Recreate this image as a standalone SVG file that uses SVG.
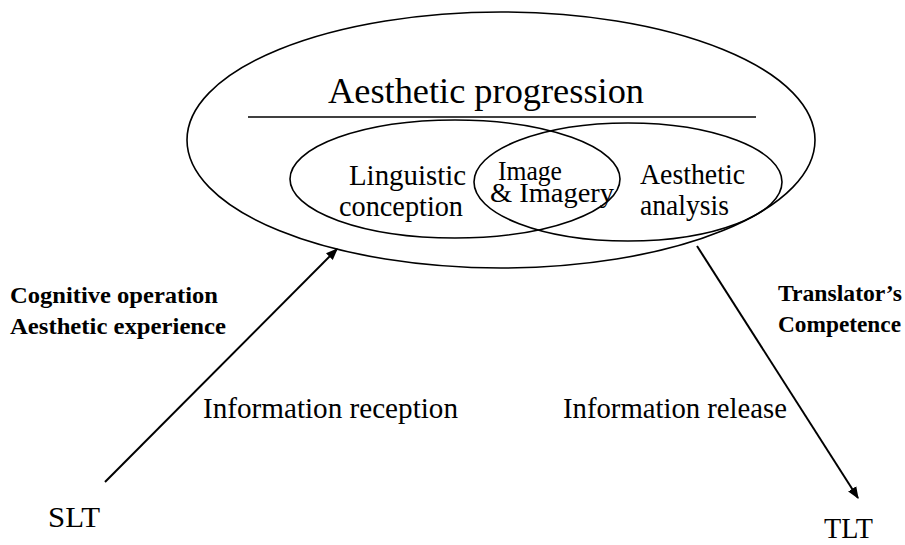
<svg xmlns="http://www.w3.org/2000/svg" width="905" height="545" viewBox="0 0 905 545">
  <style>
    .shape { fill: none; stroke: #000; stroke-width: 1.6; }
    .conn { fill: none; stroke: #000; stroke-width: 2; }
    text { fill: #000; font-family: "Liberation Serif", "DejaVu Serif", serif; }
    .big { font-size: 36px; }
    .mid { font-size: 30px; }
    .lens { font-size: 28px; }
    .low { font-size: 29px; }
    .bold { font-size: 24px; font-weight: bold; }
  </style>
  <defs>
    <marker id="arrow" viewBox="0 0 10 10" refX="9" refY="5" markerWidth="6" markerHeight="6" markerUnits="strokeWidth" orient="auto">
      <path d="M0,1 L10,5 L0,9 z" fill="#000"/>
    </marker>
  </defs>

  <!-- outer process: aesthetic progression -->
  <g id="aesthetic-progression">
    <ellipse class="shape" cx="501" cy="140" rx="314" ry="128"/>
    <text class="big" x="328" y="103" textLength="316" lengthAdjust="spacingAndGlyphs">Aesthetic progression</text>
    <line class="shape" x1="248" y1="117" x2="756" y2="117"/>
  </g>

  <!-- linguistic conception -->
  <g id="linguistic-conception">
    <ellipse class="shape" cx="455" cy="179" rx="165" ry="59"/>
    <text class="mid" x="349" y="185" textLength="117" lengthAdjust="spacingAndGlyphs">Linguistic</text>
    <text class="mid" x="339" y="216" textLength="124" lengthAdjust="spacingAndGlyphs">conception</text>
  </g>

  <!-- aesthetic analysis -->
  <g id="aesthetic-analysis">
    <ellipse class="shape" cx="628" cy="182" rx="154" ry="59"/>
    <text class="mid" x="640" y="184" textLength="105" lengthAdjust="spacingAndGlyphs">Aesthetic</text>
    <text class="mid" x="640" y="215" textLength="89" lengthAdjust="spacingAndGlyphs">analysis</text>
  </g>

  <!-- overlap of the two inner sets -->
  <g id="image-imagery">
    <text class="lens" x="498" y="180" textLength="64" lengthAdjust="spacingAndGlyphs">Image</text>
    <text class="lens" x="490" y="202" textLength="124" lengthAdjust="spacingAndGlyphs">&amp; Imagery</text>
  </g>

  <g id="slt">
    <text class="mid" x="48" y="527" textLength="52" lengthAdjust="spacingAndGlyphs">SLT</text>
  </g>

  <g id="tlt">
    <text class="low" x="824" y="538" textLength="49" lengthAdjust="spacingAndGlyphs">TLT</text>
  </g>

  <g id="labels">
    <text class="bold" x="10" y="303" textLength="208" lengthAdjust="spacingAndGlyphs">Cognitive operation</text>
    <text class="bold" x="10" y="334" textLength="216" lengthAdjust="spacingAndGlyphs">Aesthetic experience</text>
    <text class="bold" x="778" y="301" textLength="124" lengthAdjust="spacingAndGlyphs">Translator’s</text>
    <text class="bold" x="778" y="332" textLength="123" lengthAdjust="spacingAndGlyphs">Competence</text>
    <text class="low" x="203" y="418" textLength="255" lengthAdjust="spacingAndGlyphs">Information reception</text>
    <text class="low" x="563" y="418" textLength="224" lengthAdjust="spacingAndGlyphs">Information release</text>
  </g>

  <!-- reception and release flows -->
  <g id="connectors">
    <line class="conn" x1="105" y1="482" x2="337" y2="249" marker-end="url(#arrow)"/>
    <line class="conn" x1="697" y1="246" x2="858" y2="498" marker-end="url(#arrow)"/>
  </g>
</svg>
